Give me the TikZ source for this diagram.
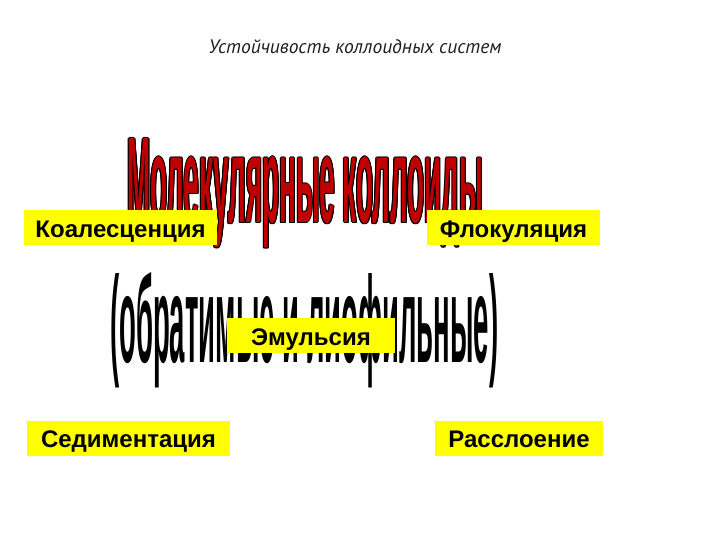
\documentclass[tikz,border=0pt]{standalone}
\usepackage{fontspec}
\setmainfont{Liberation Sans}
\newfontfamily\titlefont{PT Sans}
\usepackage{graphicx}
\usetikzlibrary{positioning}
\definecolor{yellowbox}{RGB}{255, 255, 0}
\definecolor{darkred}{RGB}{192, 0, 0}
\definecolor{titlegray}{RGB}{30, 30, 30}

\newcommand{\molcoll}{\resizebox{356pt}{84pt}{\bfseries Молекулярные коллоиды}}
\newcommand{\obrliof}{\resizebox{388pt}{90pt}{\bfseries (обратимые и лиофильные)}}

\tikzset{
  ybox/.style={fill=yellowbox, inner sep=0pt, minimum height=35pt, text height=24pt, text depth=5pt, font=\fontsize{24}{28}\selectfont\bfseries},
  bigword/.style={inner sep=0pt, anchor=base west}
}

\begin{document}
\begin{tikzpicture}[x=1pt, y=-1pt]
                \useasboundingbox (0,0) rectangle (720,540);

                % Title
                \node[titlegray, font=\titlefont\itshape\fontsize{19.5}{23}\selectfont] (title) at (355,47) {Устойчивость коллоидных систем};

                % Big words
                \foreach \dx/\dy in {-1/0, 1/0, 0/-1, 0/1, -0.8/-0.8, 0.8/0.8, -0.8/0.8, 0.8/-0.8}
                  \node[bigword, black] at (127+\dx, 223+\dy) {\molcoll};
                \node[bigword, darkred] (molcoll) at (127,223) {\molcoll};
                \node[bigword, black] (obrliof) at (110,362) {\obrliof};

                % Boxes
                \node[ybox, minimum width=193pt] (koal) at (120.5,227.5) {Коалесценция};
                \node[ybox, minimum width=173pt] (flok) at (513.5,227.5) {Флокуляция};
                \node[ybox, minimum width=168pt] (emul) at (311,335.5) {Эмульсия};
                \node[ybox, minimum width=203pt] (sedim) at (128.5,438) {Седиментация};
                \node[ybox, minimum width=168pt] (rassl) at (519,438) {Расслоение};
\end{tikzpicture}
\end{document}
